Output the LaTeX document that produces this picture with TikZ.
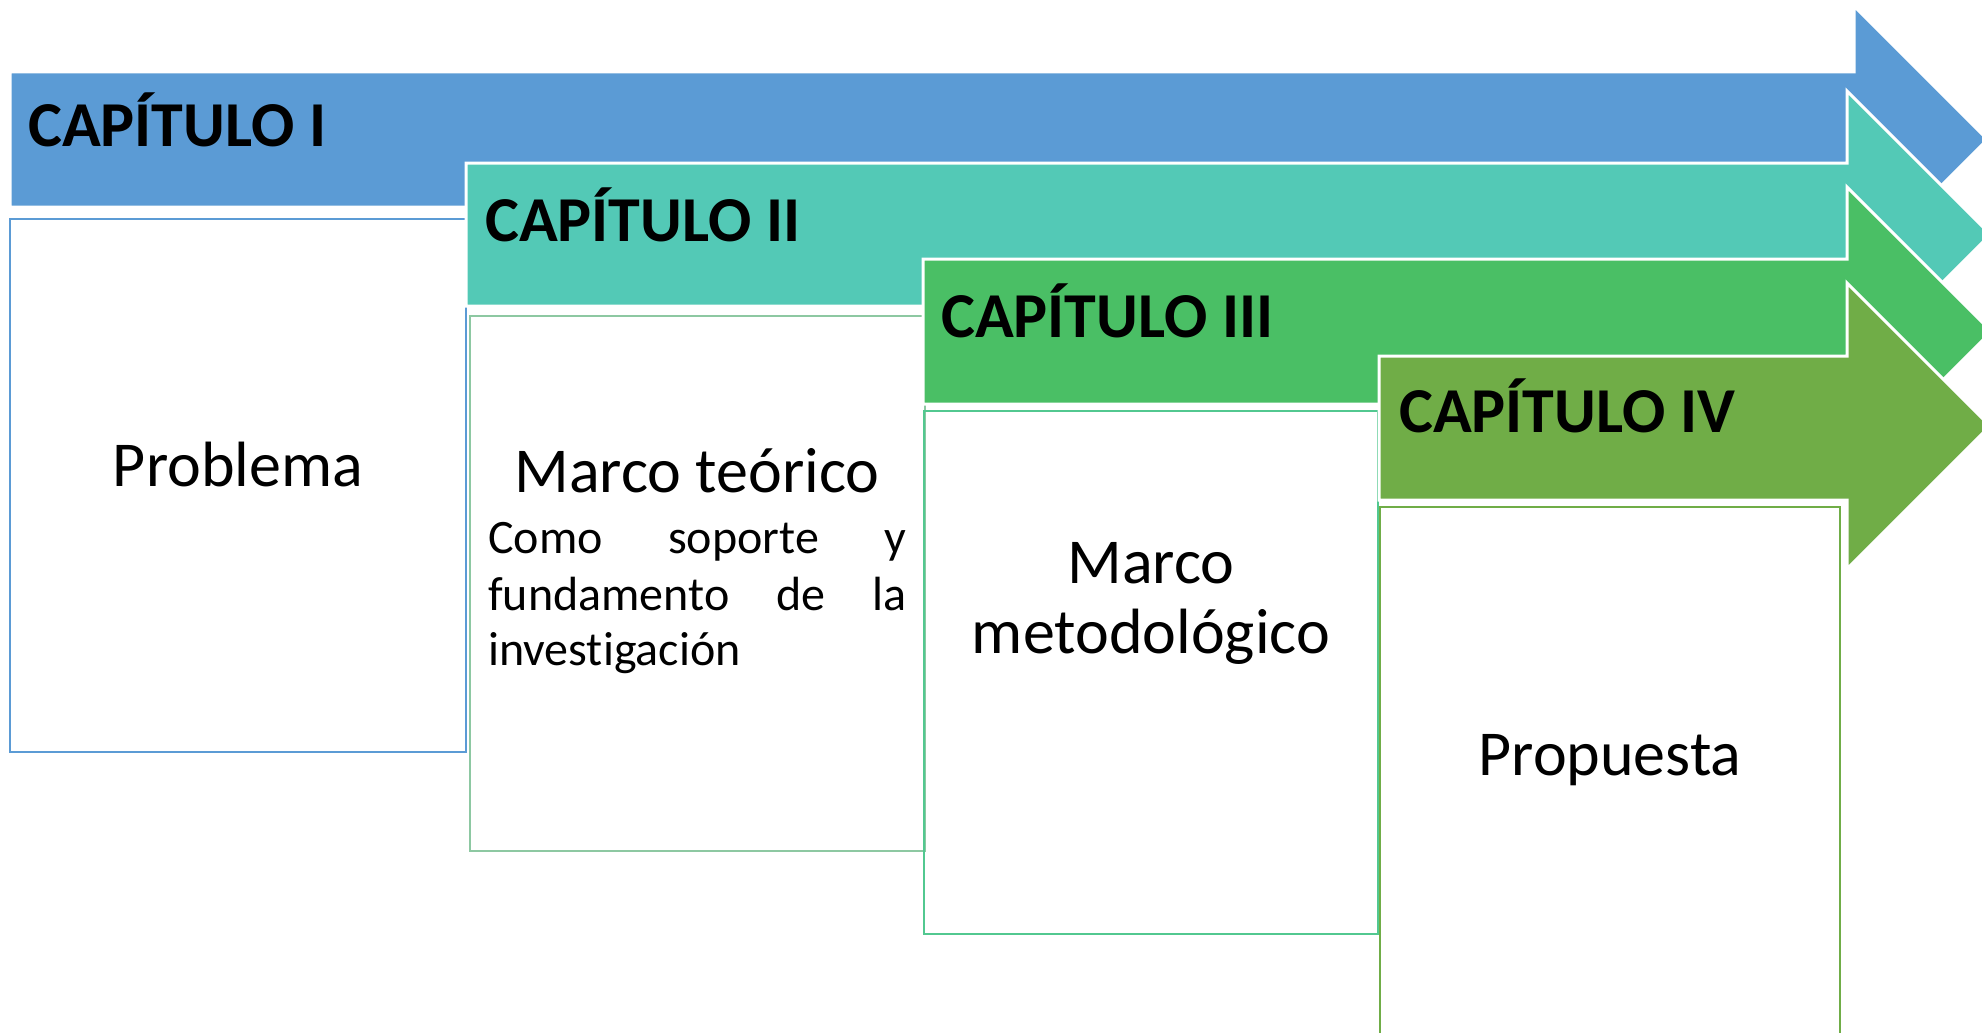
\documentclass[tikz,border=0pt]{standalone}
\usepackage{fontspec}
\setmainfont{Carlito}[Ligatures={NoCommon,NoRare,NoContextual},RawFeature={-liga;-clig}]
\definecolor{cblue}{HTML}{5B9BD5}
\definecolor{cteal}{HTML}{53C9B6}
\definecolor{cgreen}{HTML}{4ABF65}
\definecolor{colive}{HTML}{70AD47}
\definecolor{frameB}{HTML}{8DC8A2}
\definecolor{frameC}{HTML}{52C890}
\begin{document}
\begin{tikzpicture}[x=1pt,y=-1pt,
  chevron/.style={fill=#1, draw=white, line width=3pt, line join=miter},
  boxframe/.style={draw=#1, line width=2.5pt},
  chap/.style={anchor=base west, inner sep=0pt, font=\fontsize{64}{77}\selectfont\bfseries},
  body/.style={anchor=base, inner sep=0pt, font=\fontsize{64}{77}\selectfont},
  para/.style={anchor=base west, inner sep=0pt, font=\fontsize{48}{58}\selectfont}]
\clip (0,0) rectangle (1982,1033);
\fill[white] (0,0) rectangle (1982,1033);

% Chapter I
\filldraw[chevron=cblue] (10,72) -- (1854,72) -- (1854,6) -- (1987.5,139.5) -- (1854,273) -- (1854,207) -- (10,207) -- cycle;
\node[chap] (c1) at (28,146) {CAPÍTULO I};
\draw[boxframe=cblue] (10,219) rectangle (466,752);
\node[body] (t1) at (238,486) {Problema};

% Chapter II
\filldraw[chevron=cteal] (466,163) -- (1847,163) -- (1847,91) -- (1990.5,234.5) -- (1847,378) -- (1847,306) -- (466,306) -- cycle;
\node[chap] (c2) at (485,241) {CAPÍTULO II};
\draw[boxframe=frameB] (470,316) rectangle (925,851);
\node[body] (t2) at (697,492) {Marco teórico};
\node[para] (p1) at (488,553) {\makebox[418pt][s]{Como soporte y}};
\node[para] (p2) at (488,610) {\makebox[418pt][s]{fundamento de la}};
\node[para] (p3) at (488,665) {investigación};

% Chapter III
\filldraw[chevron=cgreen] (923,259) -- (1847,259) -- (1847,187) -- (1991.5,331.5) -- (1847,476) -- (1847,404) -- (923,404) -- cycle;
\node[chap] (c3) at (941,337) {CAPÍTULO III};
\draw[boxframe=frameC] (924,411) rectangle (1378,934);
\node[body] (t3a) at (1151,583) {Marco};
\node[body] (t3b) at (1151,653) {metodológico};

% Chapter IV
\filldraw[chevron=colive] (1379,356) -- (1847,356) -- (1847,283) -- (1990,426) -- (1847,569) -- (1847,500) -- (1379,500) -- cycle;
\node[chap] (c4) at (1399,432) {CAPÍTULO IV};
\draw[boxframe=colive] (1380,507) rectangle (1840,1060);
\node[body] (t4) at (1610,775) {Propuesta};
\end{tikzpicture}
\end{document}
